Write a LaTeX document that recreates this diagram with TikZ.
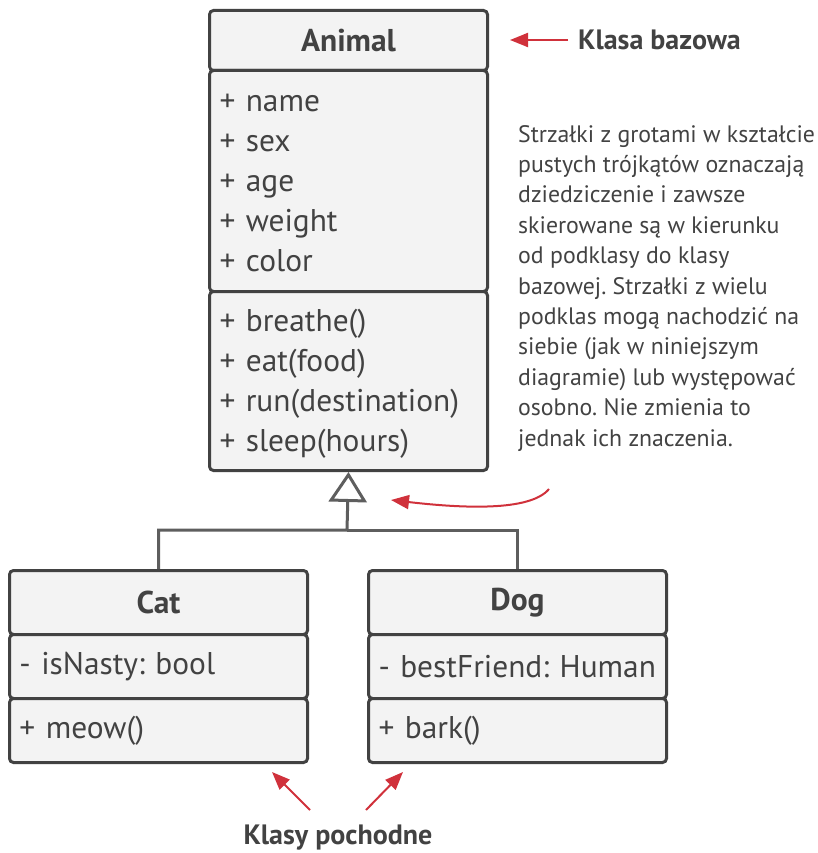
\documentclass[tikz,border=0pt]{standalone}
\usepackage{fontspec}
\setmainfont{PT Sans}
\newfontfamily\listfont[WordSpace=0.8]{PT Sans}
\usetikzlibrary{arrows.meta}
\definecolor{ink}{HTML}{424242}
\definecolor{boxfill}{HTML}{F3F3F3}
\definecolor{conn}{HTML}{5E5E5E}
\definecolor{accent}{HTML}{D0313B}
\begin{document}
\frenchspacing
\begin{tikzpicture}[x=1pt,y=-1pt,
  comp/.style={draw=ink, line width=3pt, fill=boxfill, rounded corners=4pt,
    inner sep=0pt, anchor=north west, text=ink},
  titlef/.style={font=\fontsize{31.5}{36}\selectfont\bfseries\frenchspacing},
  listf/.style={font=\listfont\fontsize{31.4}{40}\selectfont\frenchspacing, align=left},
  inherit/.style={draw=conn, line width=3pt},
  redarrow/.style={draw=accent, line width=2pt, -{Triangle[length=18pt,width=14pt]}},
  label/.style={text=ink, font=\fontsize{28}{32}\selectfont\bfseries, inner sep=0pt},
  note/.style={text=ink, font=\fontsize{23.8}{30.4}\selectfont\frenchspacing, align=left, inner sep=0pt, anchor=north west}]
\useasboundingbox (0,0) rectangle (818,853);
% Animal
\node[comp, titlef, minimum width=278pt, minimum height=60pt] (animalT) at (208,9) {Animal};
\node[comp, listf, minimum width=278pt, minimum height=221pt, text width=258pt] (animalA) at (208,69)
  {\rule{0pt}{21pt}+ name\\+ sex\\+ age\\+ weight\\+ color};
\node[comp, listf, minimum width=278pt, minimum height=179pt, text width=258pt] (animalM) at (208,290)
  {\rule{0pt}{27.5pt}+ breathe()\\+ eat(food)\\+ run(destination)\\+ sleep(hours)};
% Cat
\node[comp, titlef, minimum width=298pt, minimum height=64pt] (catT) at (8,569) {Cat};
\node[comp, listf, minimum width=298pt, minimum height=64pt, text width=278pt] (catA) at (8,633) {\mbox{- isNasty: bool}};
\node[comp, listf, minimum width=298pt, minimum height=64pt, text width=278pt] (catM) at (8,697) {+ meow()};
% Dog
\node[comp, titlef, minimum width=298pt, minimum height=64pt] (dogT) at (367,569) {Dog};
\node[comp, listf, minimum width=298pt, minimum height=64pt, text width=278pt] (dogA) at (367,633) {\mbox{- bestFriend: Human}};
\node[comp, listf, minimum width=298pt, minimum height=64pt, text width=278pt] (dogM) at (367,697) {+ bark()};
% inheritance
\coordinate (join) at (347,530);
\draw[inherit, -{Triangle[open,length=30pt,width=38pt]}] (catT.north) |- (join) -- (animalM.south);
\draw[inherit] (dogT.north) |- (join);
% labels
\node[label, anchor=west] (kb) at (578,40) {Klasa bazowa};
\coordinate (kbtip) at (510,40);
\draw[redarrow] ([xshift=-10pt]kb.west) -- (kbtip);
\node[note] (txt) at (518,125) {Strzałki z grotami w kształcie\\pustych trójkątów oznaczają\\dziedziczenie i zawsze\\skierowane są w kierunku\\od podklasy do klasy\\bazowej. Strzałki z wielu\\podklas mogą nachodzić na\\siebie (jak w niniejszym\\diagramie) lub występować\\osobno. Nie zmienia to\\jednak ich znaczenia.};
\coordinate (cs) at (549,489);
\coordinate (ce) at (391,500);
\draw[redarrow] (cs) .. controls (530,512) and (460,508) .. (ce);
\node[label] (kp) at (338,838) {Klasy pochodne};
\coordinate (l1) at (310,810);
\coordinate (l2) at (272,772);
\coordinate (r1) at (366,810);
\coordinate (r2) at (403,772);
\draw[redarrow] (l1) -- (l2);
\draw[redarrow] (r1) -- (r2);
\end{tikzpicture}
\end{document}
